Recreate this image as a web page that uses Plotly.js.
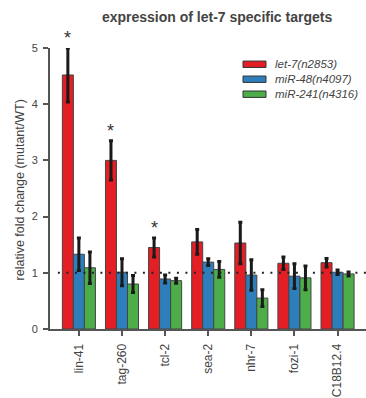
<!DOCTYPE html>
<html><head><meta charset="utf-8">
<script src="https://cdn.plot.ly/plotly-3.0.1.min.js"></script>
<style>html,body{margin:0;padding:0;background:#fff}#chart{width:366px;height:398px}</style>
</head><body><div id="chart"></div>
<script>
var genes = ["lin-41","tag-260","tcl-2","sea-2","nhr-7","fozi-1","C18B12.4"];
var seriesNames = ["let-7(n2853)","miR-48(n4097)","miR-241(n4316)"];
var seriesColors = ["#e31e24","#2f7ebc","#4cad49"];
var let7 = [4.52, 3.00, 1.45, 1.55, 1.53, 1.17, 1.18];
var let7Err = [0.48, 0.35, 0.17, 0.22, 0.37, 0.11, 0.075];
var mir48 = [1.33, 1.01, 0.89, 1.19, 0.96, 0.94, 1.01];
var mir48Err = [0.29, 0.24, 0.07, 0.06, 0.27, 0.22, 0.04];
var mir241 = [1.09, 0.80, 0.86, 1.06, 0.55, 0.91, 0.98];
var mir241Err = [0.28, 0.15, 0.045, 0.14, 0.15, 0.21, 0.035];
var significant = [true, true, true, false, false, false, false];
var yTicks = [0,1,2,3,4,5];
var yTitle = "relative fold change (mutant/WT)";

var vals = [let7, mir48, mir241];
var errs = [let7Err, mir48Err, mir241Err];
var traces = vals.map(function(v,i){
  return {type:"bar", x:genes, y:v, name:seriesNames[i],
    marker:{color:seriesColors[i], line:{color:"#444", width:1}},
    error_y:{type:"data", array:errs[i], visible:true, color:"#1a1a1a", thickness:3, width:2},
    showlegend:false};
});

var annotations = [];
genes.forEach(function(g,i){
  if(significant[i]){
    annotations.push({x:i, xref:"x", xshift:-11, y:let7[i]+let7Err[i], yref:"y", yshift:10,
      text:"*", showarrow:false, font:{family:"Liberation Sans, Arial", size:18, color:"#333"}, yanchor:"middle"});
  }
});
annotations.push({xref:"paper", yref:"paper", x:(20-50)/316, y:0.493, xanchor:"center", yanchor:"middle",
  textangle:-90, text:yTitle, showarrow:false, font:{family:"Liberation Sans, Arial", size:12.5, color:"#444"}});
var shapes = [{type:"line", xref:"paper", yref:"y", x0:0.025, x1:1, y0:1, y1:1,
  line:{color:"#222", width:2, dash:"2px,6.5px"}}];
// custom legend
seriesNames.forEach(function(n,i){
  var yc = 64 + i*15;
  shapes.push({type:"rect", xref:"paper", yref:"paper",
    x0:(243-50)/316, x1:(266-50)/316, y0:(329.3-(yc-3.2))/281.6, y1:(329.3-(yc+3.2))/281.6,
    fillcolor:seriesColors[i], line:{color:"#333", width:1}});
  annotations.push({xref:"paper", yref:"paper", x:(273-50)/316, y:(329.3-yc)/281.6,
    xanchor:"left", yanchor:"middle", text:"<i>"+n+"</i>", showarrow:false,
    font:{family:"Liberation Sans, Arial", size:11.5, color:"#444"}});
});

var layout = {
  width:366, height:398,
  margin:{l:50, r:0, t:48, b:69},
  paper_bgcolor:"#fff", plot_bgcolor:"#fff",
  font:{family:"Liberation Sans, Arial", color:"#444"},
  title:{text:"<b>expression of let-7 specific targets</b>", x:0.593, xanchor:"center", y:0.957, yanchor:"middle",
    font:{family:"Liberation Sans, Arial", size:14, color:"#444"}},
  barmode:"group", bargap:0.233, bargroupgap:0,
  showlegend:false,
  xaxis:{range:[-0.67,6.66], showline:true, linecolor:"#555", linewidth:2,
    ticks:"outside", ticklen:5, tickwidth:2, tickcolor:"#555", tickangle:-90, ticklabelstandoff:3,
    tickfont:{size:12, color:"#444"}, showgrid:false, zeroline:false, fixedrange:true},
  yaxis:{range:[0,5], showline:true, linecolor:"#555", linewidth:2,
    ticks:"outside", ticklen:5, tickwidth:2, tickcolor:"#555", tickvals:yTicks, ticklabelstandoff:3,
    tickfont:{size:11, color:"#444"}, showgrid:false, zeroline:false},
  shapes:shapes, annotations:annotations
};
Plotly.newPlot("chart", traces, layout, {displayModeBar:false, staticPlot:true});
</script></body></html>
